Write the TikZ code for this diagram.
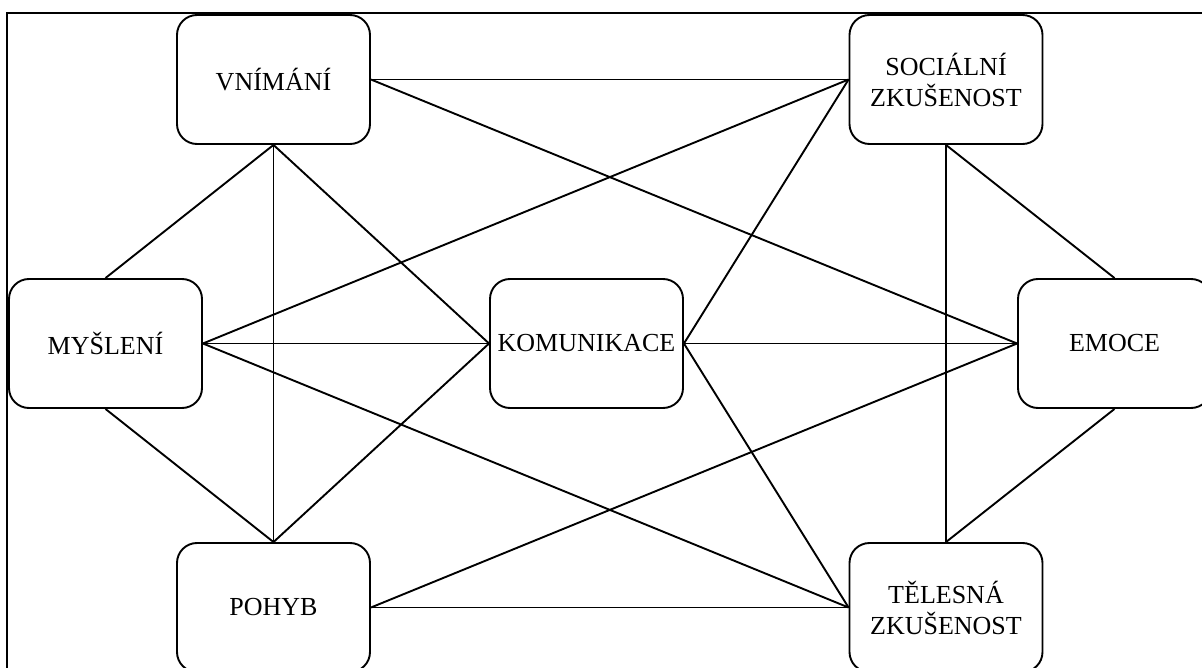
\documentclass[tikz,border=0pt]{standalone}
\usepackage{fontspec}
\setmainfont{Liberation Serif}
\begin{document}
\begin{tikzpicture}[
    x=1pt, y=-1pt,
    box/.style={draw, rounded corners=20pt, line width=1.9pt, minimum width=193pt, minimum height=129pt, inner sep=0pt, align=center, font=\fontsize{26}{31}\selectfont},
    link/.style={line width=1.9pt}
]
    \clip (0,0) rectangle (1202,668);
    % Frame
    \draw[line width=1.4pt] (7,13) rectangle (1240,700);

    % Boxes
    \node[box] (vnimani) at (273.5,79.5) {VNÍMÁNÍ};
    \node[box] (socialni) at (946,79.5) {SOCIÁLNÍ\\ZKUŠENOST};
    \node[box] (mysleni) at (105.5,343.5) {MYŠLENÍ};
    \node[box] (komunikace) at (586.5,343.5) {KOMUNIKACE};
    \node[box] (emoce) at (1114.5,343.5) {EMOCE};
    \node[box] (pohyb) at (273.5,607.5) {POHYB};
    \node[box] (telesna) at (946,607.5) {TĚLESNÁ\\ZKUŠENOST};

    % Links
    \draw[link] (vnimani.east) -- (socialni.west);
    \draw[link] (vnimani.east) -- (emoce.west);
    \draw[link] (vnimani.south) -- (mysleni.north);
    \draw[link] (vnimani.south) -- (pohyb.north);
    \draw[link] (vnimani.south) -- (komunikace.west);
    \draw[link] (socialni.west) -- (mysleni.east);
    \draw[link] (socialni.west) -- (komunikace.east);
    \draw[link] (socialni.south) -- (telesna.north);
    \draw[link] (socialni.south) -- (emoce.north);
    \draw[link] (mysleni.east) -- (komunikace.west);
    \draw[link] (mysleni.east) -- (telesna.west);
    \draw[link] (mysleni.south) -- (pohyb.north);
    \draw[link] (komunikace.west) -- (pohyb.north);
    \draw[link] (komunikace.east) -- (emoce.west);
    \draw[link] (komunikace.east) -- (telesna.west);
    \draw[link] (emoce.west) -- (pohyb.east);
    \draw[link] (emoce.south) -- (telesna.north);
    \draw[link] (pohyb.east) -- (telesna.west);
\end{tikzpicture}
\end{document}
